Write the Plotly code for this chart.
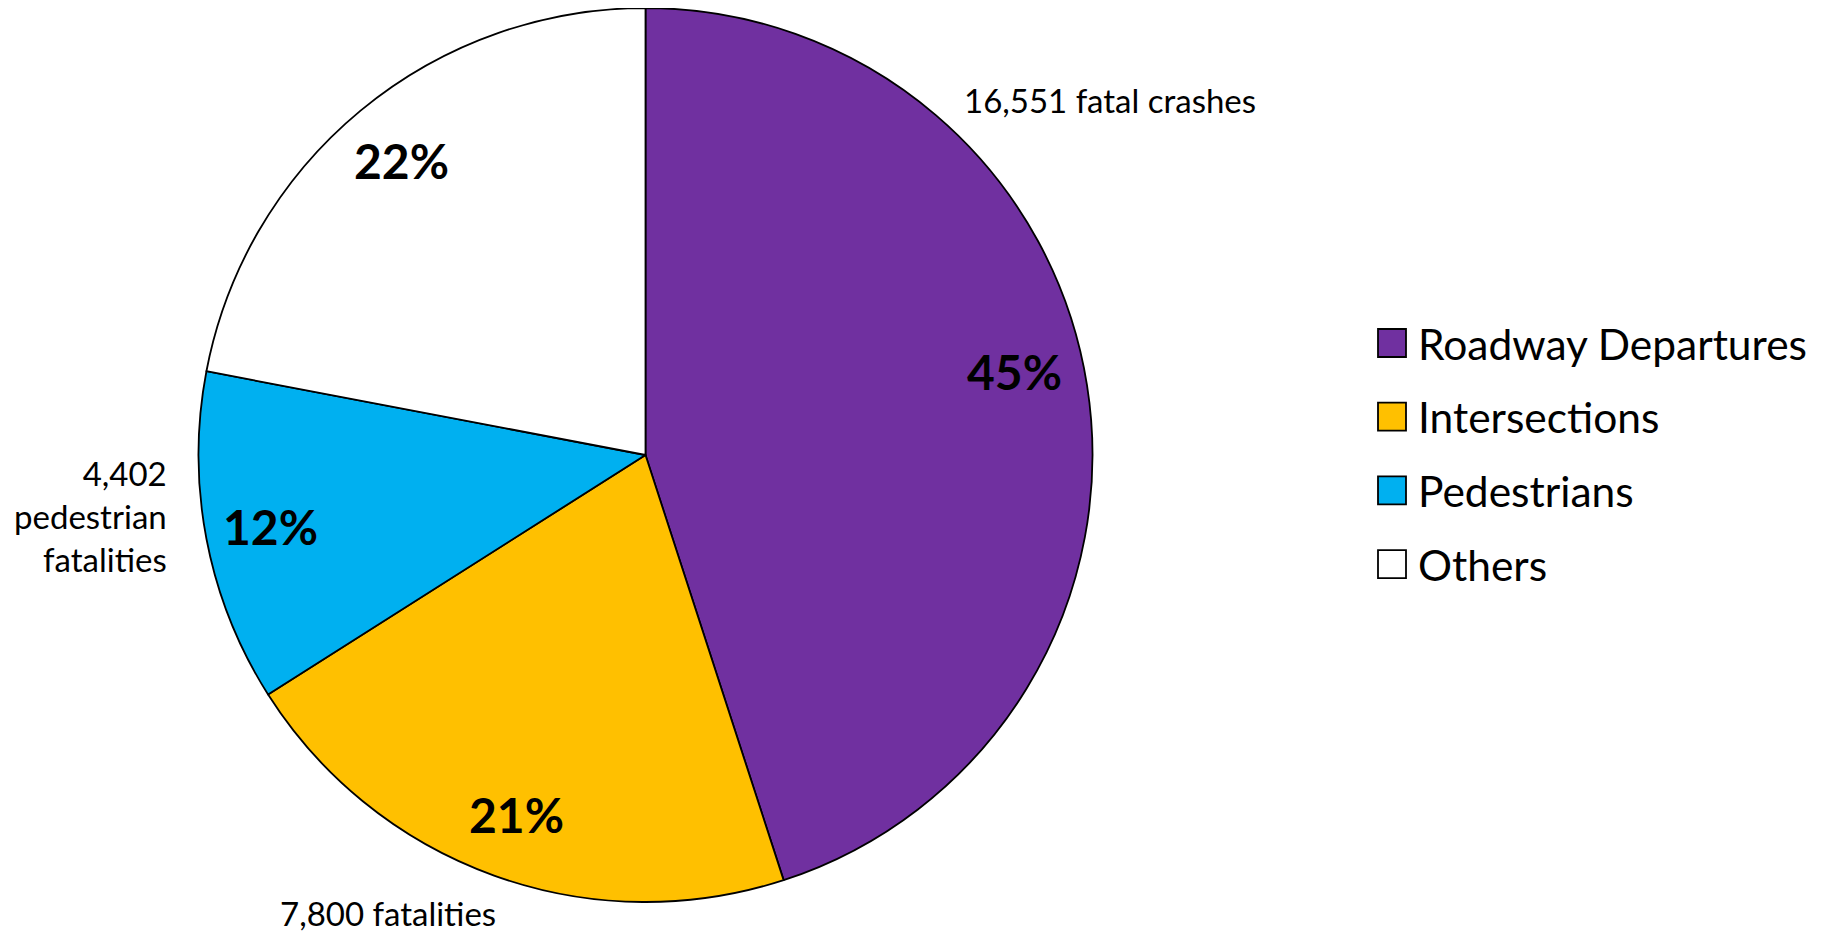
import math
import plotly.graph_objects as go

labels = ["Roadway Departures", "Intersections", "Pedestrians", "Others"]
values = [45, 21, 12, 22]
colors = ["#7030A0", "#FFC000", "#00B0F0", "#FFFFFF"]
callouts = ["16,551 fatal crashes", "7,800 fatalities", "4,402<br>pedestrian<br>fatalities", ""]

W, H = 1825, 935
OFF = 8  # page body margin: figure pixel = page pixel - OFF
CX, CY, R = 645.5 - OFF, 455 - OFF, 447
FONT = "Lato, 'Open Sans', sans-serif"
label_nudge = [(-8, -24), (0, 0), (0, 0), (0, 0)]  # manual placement tweaks (px)


def px(x):
    return min(max(x / W, 0), 1)


def py(y):
    return min(max(1 - y / H, 0), 1)


fig = go.Figure(go.Pie(
    labels=labels, values=values, sort=False, direction="clockwise", rotation=0,
    marker=dict(colors=colors, line=dict(color="black", width=1.8)),
    textinfo="none", hoverinfo="label+percent", showlegend=False,
    domain=dict(x=[px(CX - R), px(CX + R)], y=[py(CY + R), py(CY - R)]),
))

annotations = []
total = sum(values)
cum = 0
for v, (nx, ny) in zip(values, label_nudge):
    mid = (cum + v / 2) / total * 2 * math.pi
    cum += v
    rr = 0.855 * R
    x = CX + rr * math.sin(mid) + nx
    y = CY - rr * math.cos(mid) + ny
    annotations.append(dict(x=px(x), y=py(y), xref="paper", yref="paper",
                            text="<b>%d%%</b>" % round(v / total * 100), showarrow=False,
                            font=dict(family=FONT, size=48, color="black"),
                            xanchor="center", yanchor="middle"))

# outside callout labels (page coordinates)
callout_pos = [(962, 100, "left"), (388, 913, "center"), (169, 516, "right")]
for (x, y, anc), txt in zip(callout_pos, callouts[:3]):
    annotations.append(dict(x=px(x - OFF), y=py(y - OFF), xref="paper", yref="paper", text=txt,
                            showarrow=False, xanchor=anc, yanchor="middle", align=anc,
                            font=dict(family=FONT, size=33, color="black")))

# legend
shapes = []
lx, ly0, dy, box = 1378 - OFF, 343 - OFF, 73.7, 28
for i, (lab, col) in enumerate(zip(labels, colors)):
    cy = ly0 + i * dy
    shapes.append(dict(type="rect", xref="paper", yref="paper",
                       x0=px(lx), x1=px(lx + box), y0=py(cy - box / 2), y1=py(cy + box / 2),
                       fillcolor=col, line=dict(color="black", width=1.8)))
    annotations.append(dict(x=px(lx + box + 10), y=py(cy), xref="paper", yref="paper", text=lab,
                            showarrow=False, xanchor="left", yanchor="middle",
                            font=dict(family=FONT, size=42.5, color="black")))

fig.update_layout(width=W, height=H, margin=dict(l=0, r=0, t=0, b=0),
                  paper_bgcolor="white", plot_bgcolor="white",
                  annotations=annotations, shapes=shapes)
fig.write_html("out.html")
